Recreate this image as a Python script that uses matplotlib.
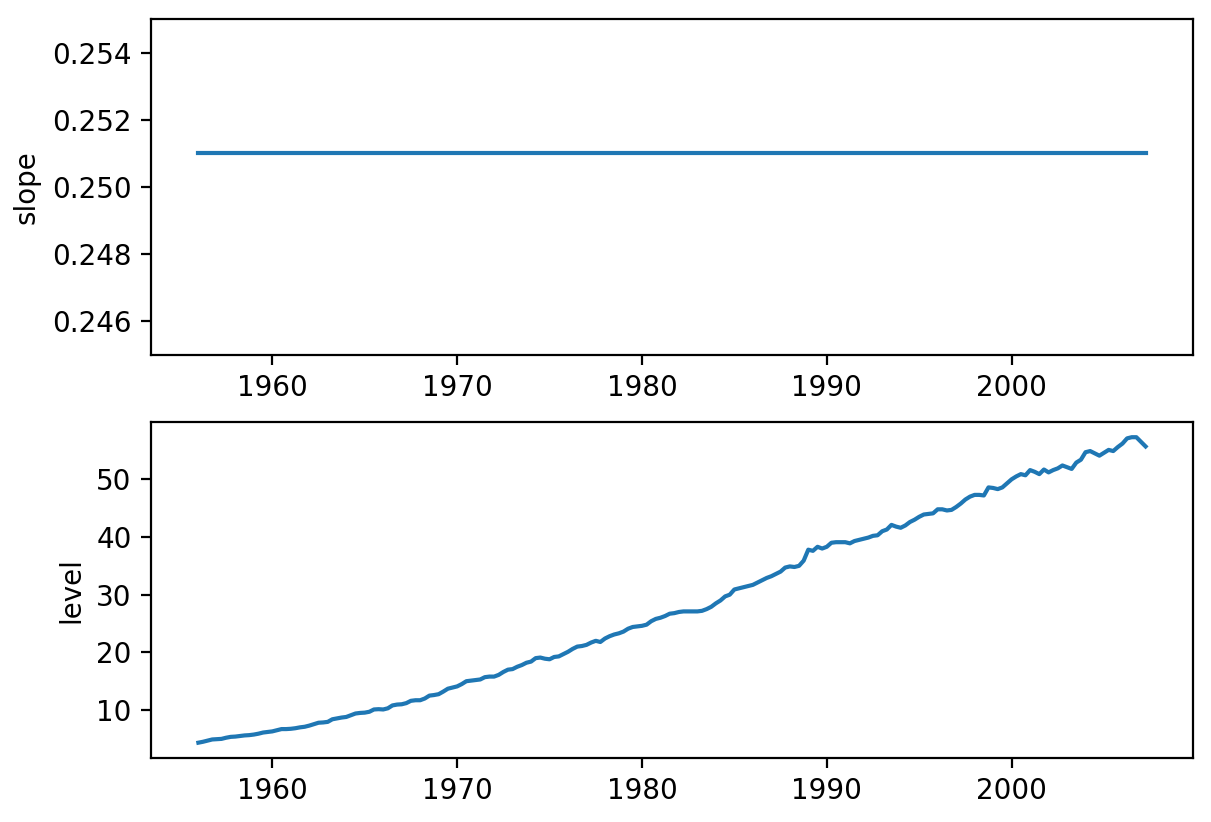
import numpy as np
import matplotlib
matplotlib.use("Agg")
import matplotlib.pyplot as plt

# quarterly data, 1956Q1 .. 2007Q2
start_year = 1956.0
level = [
    4.34, 4.5, 4.7, 4.9,
    4.95, 5.0, 5.2, 5.35,
    5.4, 5.5, 5.6, 5.65,
    5.75, 5.9, 6.1, 6.2,
    6.3, 6.5, 6.7, 6.7,
    6.75, 6.85, 7.0, 7.1,
    7.3, 7.55, 7.8, 7.85,
    7.95, 8.4, 8.55, 8.7,
    8.8, 9.1, 9.4, 9.5,
    9.55, 9.7, 10.1, 10.15,
    10.1, 10.3, 10.8, 10.95,
    11.0, 11.2, 11.6, 11.7,
    11.7, 12.0, 12.5, 12.6,
    12.75, 13.2, 13.7, 13.9,
    14.1, 14.5, 15.0, 15.1,
    15.2, 15.3, 15.7, 15.8,
    15.8, 16.1, 16.6, 17.0,
    17.1, 17.5, 17.8, 18.2,
    18.4, 19.0, 19.1, 18.9,
    18.8, 19.2, 19.3, 19.7,
    20.1, 20.6, 21.0, 21.1,
    21.3, 21.7, 22.0, 21.8,
    22.4, 22.8, 23.1, 23.3,
    23.6, 24.1, 24.4, 24.5,
    24.6, 24.8, 25.4, 25.8,
    26.0, 26.3, 26.7, 26.8,
    27.0, 27.1, 27.1, 27.1,
    27.1, 27.2, 27.5, 27.9,
    28.5, 29.0, 29.7, 30.0,
    30.9, 31.1, 31.3, 31.5,
    31.7, 32.1, 32.5, 32.9,
    33.2, 33.6, 34.0, 34.7,
    34.9, 34.8, 35.0, 35.9,
    37.8, 37.6, 38.3, 38.0,
    38.3, 39.0, 39.1, 39.1,
    39.1, 38.9, 39.3, 39.5,
    39.7, 39.9, 40.2, 40.3,
    41.0, 41.3, 42.1, 41.8,
    41.6, 42.0, 42.6, 43.0,
    43.5, 43.9, 44.0, 44.1,
    44.8, 44.8, 44.6, 44.7,
    45.2, 45.8, 46.5, 47.0,
    47.3, 47.3, 47.2, 48.6,
    48.5, 48.3, 48.6, 49.3,
    50.0, 50.5, 50.9, 50.7,
    51.6, 51.3, 50.9, 51.7,
    51.2, 51.6, 51.9, 52.4,
    52.1, 51.8, 52.9, 53.4,
    54.7, 54.9, 54.5, 54.1,
    54.6, 55.1, 54.9, 55.6,
    56.2, 57.1, 57.3, 57.3,
    56.5, 55.7,
]
slope_value = 0.251
slope = [slope_value] * len(level)
years = start_year + np.arange(len(level)) / 4.0

fig = plt.figure(figsize=(6.055, 4.11), dpi=200)
ax1 = fig.add_axes([0.1247, 0.5681, 0.8604, 0.4088])
ax2 = fig.add_axes([0.1247, 0.0779, 0.8604, 0.4088])

ax1.plot(years, slope, color="#1f77b4", lw=1.5)
ax1.set_ylim(0.245, 0.255)
ax1.set_yticks([0.246, 0.248, 0.250, 0.252, 0.254])
ax1.set_ylabel("slope")

ax2.plot(years, level, color="#1f77b4", lw=1.5)
ax2.set_ylabel("level")

for ax in (ax1, ax2):
    ax.set_xticks([1960, 1970, 1980, 1990, 2000])

fig.savefig("out.png", dpi=200)
